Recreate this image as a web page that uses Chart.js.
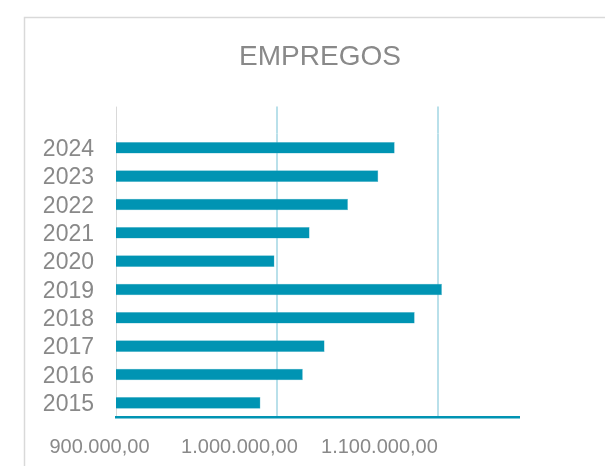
<!DOCTYPE html>
<html>
<head>
<meta charset="utf-8">
<script src="https://cdn.jsdelivr.net/npm/chart.js@4"></script>
<style>
  html, body { margin: 0; padding: 0; background: #fff; }
  #wrap { width: 605px; height: 466px; }
</style>
</head>
<body>
<div id="wrap"><canvas id="myChart" width="605" height="466"></canvas></div>
<script>
const years = ['2024', '2023', '2022', '2021', '2020', '2019', '2018', '2017', '2016', '2015'];
const empregos = [1072900, 1062700, 1043900, 1020100, 998300, 1102200, 1085300, 1029400, 1015900, 989600];
const xTicks = [900000, 1000000, 1100000];
const xMin = 900000;
const xMax = 1150000;
// the original's labels sit on a slightly different spread than its gridlines
const labelMin = 911800;
const labelMax = 1199700;

function fmt(v) {
    const int = Math.round(v).toString().replace(/\B(?=(\d{3})+(?!\d))/g, '.');
    return int + ',00';
}

const gridColor = (v) => v === xMin ? '#d9d9d9' : '#b9e0ea';
const gridWidth = (v) => v === xMin ? 1 : 2;
const setTicks = (s) => { s.ticks = xTicks.map(v => ({ value: v })); };

// chart frame, title centring and gridlines reaching above the plot
const extras = {
    id: 'extras',
    afterLayout(chart) {
        if (chart.titleBlock) chart.titleBlock.right = chart.width;
    },
    beforeDraw(chart) {
        const ctx = chart.ctx;
        ctx.save();
        ctx.strokeStyle = '#d9d9d9';
        ctx.lineWidth = 1.5;
        ctx.strokeRect(24.5, 17.5, 700, 600);
        ctx.restore();
    },
    beforeDatasetsDraw(chart) {
        const {ctx, chartArea, scales: {x}} = chart;
        ctx.save();
        xTicks.forEach(v => {
            const px = Math.round(x.getPixelForValue(v)) + (gridWidth(v) === 1 ? 0.5 : 0);
            ctx.strokeStyle = gridColor(v);
            ctx.lineWidth = gridWidth(v);
            ctx.beginPath();
            ctx.moveTo(px, chartArea.top - 27);
            ctx.lineTo(px, chartArea.top);
            ctx.stroke();
        });
        ctx.restore();
    }
};

const config = {
    type: 'bar',
    data: {
        labels: years,
        datasets: [{
            label: 'EMPREGOS',
            data: empregos,
            xAxisID: 'x',
            backgroundColor: '#0094b3',
            borderColor: '#5bb7cc',
            borderWidth: 0.5,
            barPercentage: 0.41,
            categoryPercentage: 1
        }]
    },
    options: {
        indexAxis: 'y',
        responsive: false,
        animation: false,
        layout: { padding: { left: 35, right: 86, top: 17, bottom: 0 } },
        scales: {
            x: {
                position: 'bottom',
                min: xMin,
                max: xMax,
                afterBuildTicks: setTicks,
                afterFit: (s) => { s.height = 0; },
                ticks: { display: false },
                grid: {
                    drawTicks: false,
                    color: (c) => gridColor(c.tick ? c.tick.value : 0),
                    lineWidth: (c) => gridWidth(c.tick ? c.tick.value : 0)
                },
                border: { display: true, color: '#0094b3', width: 2.5 }
            },
            xLabels: {
                type: 'linear',
                position: 'bottom',
                min: labelMin,
                max: labelMax,
                afterBuildTicks: setTicks,
                afterFit: (s) => { s.height = 49; },
                ticks: {
                    color: '#898989',
                    padding: 18,
                    autoSkip: false,
                    maxRotation: 0,
                    font: { family: 'Liberation Sans', size: 20 },
                    callback: (v) => fmt(v)
                },
                grid: { display: false, drawTicks: false },
                border: { display: false }
            },
            y: {
                afterFit: (s) => { s.width = 81; },
                ticks: {
                    color: '#898989',
                    padding: 22,
                    labelOffset: 2,
                    autoSkip: false,
                    font: { family: 'Liberation Sans', size: 23 }
                },
                grid: { display: false, drawTicks: false },
                border: { display: false }
            }
        },
        plugins: {
            legend: { display: false },
            tooltip: { enabled: false },
            title: {
                display: true,
                text: 'EMPREGOS',
                color: '#898989',
                font: { family: 'Liberation Sans', size: 28, weight: 'normal' },
                padding: { top: 23, bottom: 60 }
            }
        }
    },
    plugins: [extras]
};

function buildChart() {
    const ctx = document.getElementById('myChart').getContext('2d');
    return new Chart(ctx, config);
}

window.addEventListener('load', () => {
    buildChart();
});
</script>
</body>
</html>
